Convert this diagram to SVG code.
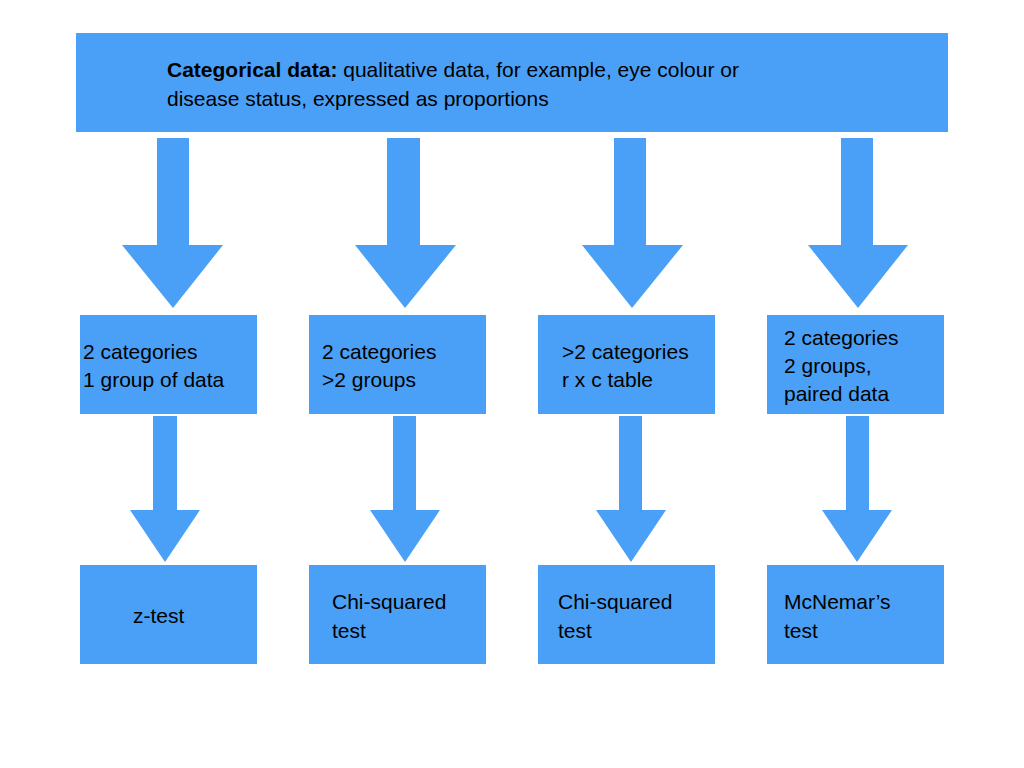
<svg xmlns="http://www.w3.org/2000/svg" width="1024" height="768" viewBox="0 0 1024 768">
<style>
.b{fill:#4aa0f7}
.t{font-family:"Liberation Sans",Arial,sans-serif;font-size:21px;fill:#000}
</style>
<rect width="1024" height="768" fill="#fff"/>
<g id="top"><rect class="b" x="76" y="33" width="872" height="99"/>
<text class="t" x="167" y="77"><tspan font-weight="bold">Categorical data:</tspan> qualitative data, for example, eye colour or</text>
<text class="t" x="167" y="106">disease status, expressed as proportions</text></g>
<g id="connectors" class="b">
<polygon points="157,138 189,138 189,245 223,245 173,308 122,245 157,245"/>
<polygon points="387,138 420,138 420,245 456,245 405,308 355,245 387,245"/>
<polygon points="614,138 646,138 646,245 683,245 632,308 582,245 614,245"/>
<polygon points="841,138 873,138 873,245 908,245 858,308 808,245 841,245"/>
<polygon points="153,416 177,416 177,510 200,510 165,562 130,510 153,510"/>
<polygon points="393,416 416,416 416,510 440,510 405,562 370,510 393,510"/>
<polygon points="619,416 642,416 642,510 666,510 631,562 596,510 619,510"/>
<polygon points="846,416 869,416 869,510 892,510 857,562 822,510 846,510"/>
</g>
<g id="m1"><rect class="b" x="80" y="315" width="177" height="99"/><text class="t" x="83" y="359">2 categories</text><text class="t" x="83" y="387">1 group of data</text></g>
<g id="m2"><rect class="b" x="309" y="315" width="177" height="99"/><text class="t" x="322" y="359">2 categories</text><text class="t" x="322" y="387">&gt;2 groups</text></g>
<g id="m3"><rect class="b" x="538" y="315" width="177" height="99"/><text class="t" x="562" y="359">&gt;2 categories</text><text class="t" x="562" y="387">r x c table</text></g>
<g id="m4"><rect class="b" x="767" y="315" width="177" height="99"/><text class="t" x="784" y="345">2 categories</text><text class="t" x="784" y="373">2 groups,</text><text class="t" x="784" y="401">paired data</text></g>
<g id="b1"><rect class="b" x="80" y="565" width="177" height="99"/><text class="t" x="133" y="623">z-test</text></g>
<g id="b2"><rect class="b" x="309" y="565" width="177" height="99"/><text class="t" x="332" y="609">Chi-squared</text><text class="t" x="332" y="638">test</text></g>
<g id="b3"><rect class="b" x="538" y="565" width="177" height="99"/><text class="t" x="558" y="609">Chi-squared</text><text class="t" x="558" y="638">test</text></g>
<g id="b4"><rect class="b" x="767" y="565" width="177" height="99"/><text class="t" x="784" y="609">McNemar’s</text><text class="t" x="784" y="638">test</text></g>
</svg>
